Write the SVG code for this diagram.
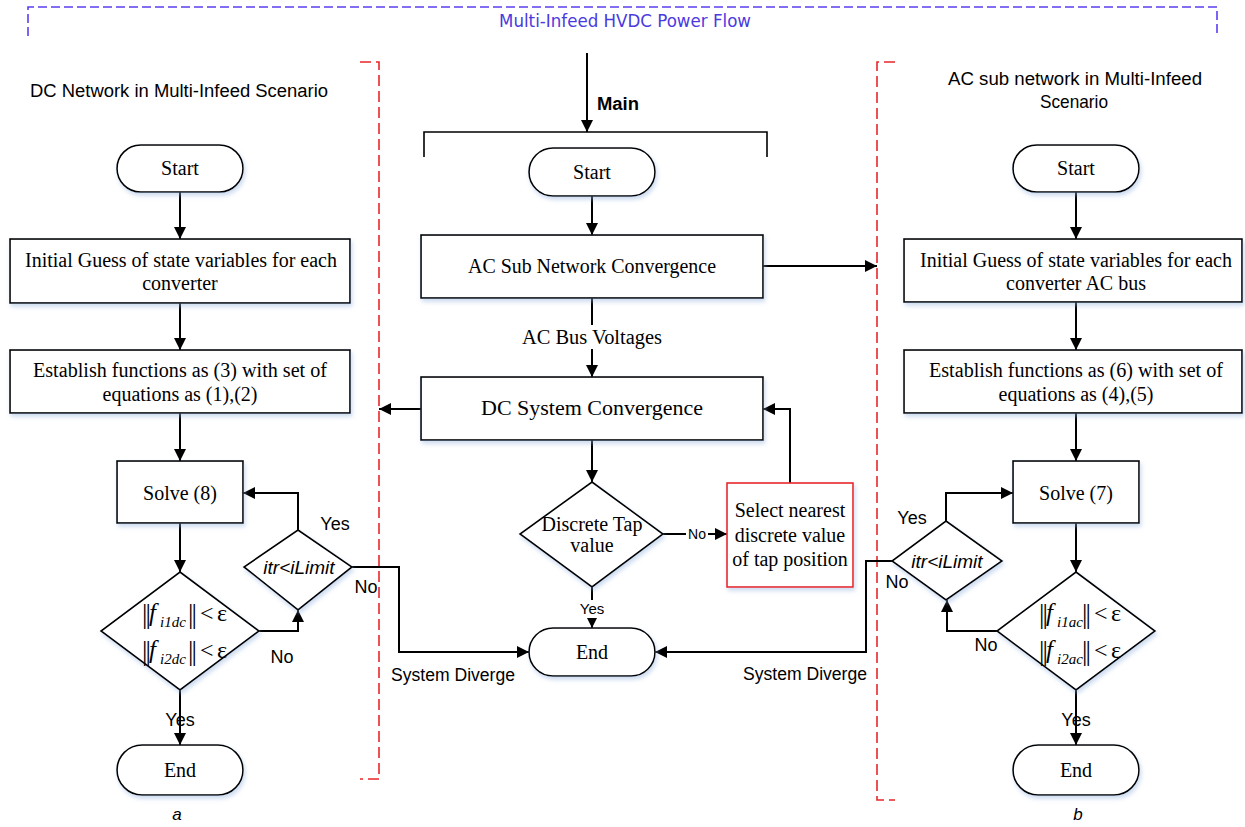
<svg xmlns="http://www.w3.org/2000/svg" width="1245" height="827" viewBox="0 0 1245 827">
<defs>
<style>
.n{fill:#fff;stroke:#000;stroke-width:1.6;filter:url(#sh)}
.sr{font-family:"Liberation Serif",serif;font-size:20px;fill:#000;text-anchor:middle}
.ss{font-family:"Liberation Sans",sans-serif;font-size:18px;fill:#000;text-anchor:middle}
.c{fill:none;stroke:#000;stroke-width:2}
.rd{fill:none;stroke:#e8262a;stroke-width:1.6;stroke-dasharray:11,5}
.bd{fill:none;stroke:#5a3ff0;stroke-width:1.6;stroke-dasharray:9,4}
.bar{font-family:"Liberation Serif",serif;font-size:27px;fill:#000;letter-spacing:-2px}
.fi{font-family:"Liberation Serif",serif;font-size:25px;font-style:italic;fill:#000}
.sub{font-family:"Liberation Serif",serif;font-size:15px;font-style:italic;fill:#000}
.lt{font-family:"Liberation Serif",serif;font-size:24px;fill:#000}
.it{font-family:"Liberation Sans",sans-serif;font-size:19px;font-style:italic;fill:#000;text-anchor:middle}
</style>
<filter id="sh" x="-10%" y="-10%" width="130%" height="140%"><feDropShadow dx="1.5" dy="3" stdDeviation="2" flood-color="#8fb0dd" flood-opacity="0.45"/></filter>
<marker id="ah" viewBox="0 0 10 10" refX="10" refY="5" markerWidth="12" markerHeight="12" markerUnits="userSpaceOnUse" orient="auto"><path d="M0,0 L10,5 L0,10 z" fill="#000"/></marker>
</defs>
<rect width="1245" height="827" fill="#fff"/>

<g id="frames">
<path class="bd" d="M28,36 V7 H1217 V37"/>
<text x="625" y="27" font-family="DejaVu Sans Condensed,Liberation Sans,sans-serif" font-size="17" fill="#4a3ae0" text-anchor="middle" textLength="252" lengthAdjust="spacingAndGlyphs">Multi-Infeed HVDC Power Flow</text>
<path class="rd" d="M360,62 H379 V779 H360"/>
<path class="rd" d="M895,62 H877 V800 H895"/>
<path fill="none" stroke="#000" stroke-width="1.6" d="M424,157 V132 H767 V157"/>
<text x="597" y="110" font-family="Liberation Sans,sans-serif" font-size="18" font-weight="bold" textLength="42" lengthAdjust="spacingAndGlyphs">Main</text>
<text x="30" y="97" font-family="Liberation Sans,sans-serif" font-size="18" textLength="298" lengthAdjust="spacingAndGlyphs">DC Network in Multi-Infeed Scenario</text>
<text x="948" y="85" font-family="Liberation Sans,sans-serif" font-size="18" textLength="254" lengthAdjust="spacingAndGlyphs">AC sub network in Multi-Infeed</text>
<text x="1040" y="108" font-family="Liberation Sans,sans-serif" font-size="18.5" textLength="68" lengthAdjust="spacingAndGlyphs">Scenario</text>
<text x="177" y="820" font-family="Liberation Sans,sans-serif" font-size="17" font-style="italic" text-anchor="middle">a</text>
<text x="1078" y="820" font-family="Liberation Sans,sans-serif" font-size="17" font-style="italic" text-anchor="middle">b</text>
</g>

<g id="connectors">
<line class="c" x1="587" y1="53" x2="587" y2="132" marker-end="url(#ah)"/>
<line class="c" x1="180" y1="192" x2="180" y2="239" marker-end="url(#ah)"/>
<line class="c" x1="180" y1="303" x2="180" y2="350" marker-end="url(#ah)"/>
<line class="c" x1="180" y1="413" x2="180" y2="461" marker-end="url(#ah)"/>
<line class="c" x1="180" y1="523" x2="180" y2="572" marker-end="url(#ah)"/>
<line class="c" x1="180" y1="690" x2="180" y2="745" marker-end="url(#ah)"/>
<polyline class="c" points="259,631 298,631 298,610" marker-end="url(#ah)"/>
<polyline class="c" points="298,530 298,493 243,493" marker-end="url(#ah)"/>
<polyline class="c" points="352,567 399,567 399,652 529,652" marker-end="url(#ah)"/>
<line class="c" x1="592" y1="196" x2="592" y2="235" marker-end="url(#ah)"/>
<line class="c" x1="592" y1="298" x2="592" y2="377" marker-end="url(#ah)"/>
<line class="c" x1="763" y1="266" x2="877" y2="266" marker-end="url(#ah)"/>
<line class="c" x1="421" y1="409" x2="379" y2="409" marker-end="url(#ah)"/>
<line class="c" x1="592" y1="440" x2="592" y2="482" marker-end="url(#ah)"/>
<line class="c" x1="663" y1="534" x2="727" y2="534" marker-end="url(#ah)"/>
<polyline class="c" points="790,483 790,409 763,409" marker-end="url(#ah)"/>
<line class="c" x1="592" y1="587" x2="592" y2="628" marker-end="url(#ah)"/>
<polyline class="c" points="892,561 866,561 866,652 655,652" marker-end="url(#ah)"/>
<line class="c" x1="1076" y1="192" x2="1076" y2="239" marker-end="url(#ah)"/>
<line class="c" x1="1076" y1="302" x2="1076" y2="350" marker-end="url(#ah)"/>
<line class="c" x1="1076" y1="413" x2="1076" y2="461" marker-end="url(#ah)"/>
<line class="c" x1="1076" y1="523" x2="1076" y2="572" marker-end="url(#ah)"/>
<line class="c" x1="1076" y1="690" x2="1076" y2="745" marker-end="url(#ah)"/>
<polyline class="c" points="946,521 946,493 1013,493" marker-end="url(#ah)"/>
<polyline class="c" points="997,631 947,631 947,600" marker-end="url(#ah)"/>
<rect x="520" y="325" width="144" height="24" fill="#fff"/>
<text class="sr" x="592" y="344" textLength="140" lengthAdjust="spacingAndGlyphs">AC Bus Voltages</text>
<rect x="686" y="526" width="22" height="16" fill="#fff"/>
<text x="697" y="539" font-family="Liberation Sans,sans-serif" font-size="14" text-anchor="middle">No</text>
<rect x="580" y="600" width="25" height="18" fill="#fff"/>
<text x="592" y="614" font-family="Liberation Sans,sans-serif" font-size="15" text-anchor="middle">Yes</text>
<text class="ss" x="180" y="726">Yes</text>
<text class="ss" x="1076" y="726">Yes</text>
<text class="ss" x="282" y="663">No</text>
<text class="ss" x="335" y="530">Yes</text>
<text class="ss" x="366" y="593">No</text>
<text class="ss" x="453" y="681" textLength="124" lengthAdjust="spacingAndGlyphs">System Diverge</text>
<text class="ss" x="805" y="680" textLength="124" lengthAdjust="spacingAndGlyphs">System Diverge</text>
<text class="ss" x="912" y="524">Yes</text>
<text class="ss" x="897" y="588">No</text>
<text class="ss" x="986" y="651">No</text>
</g>

<g id="dc-start"><rect class="n" x="117" y="145" width="126" height="47" rx="23.5"/><text class="sr" x="180" y="175">Start</text></g>
<g id="dc-guess"><rect class="n" x="10" y="239" width="340" height="64"/><text class="sr" x="181" y="267" textLength="312" lengthAdjust="spacingAndGlyphs">Initial Guess of state variables for each</text><text class="sr" x="180" y="290">converter</text></g>
<g id="dc-establish"><rect class="n" x="10" y="350" width="340" height="63"/><text class="sr" x="180" y="377" textLength="294" lengthAdjust="spacingAndGlyphs">Establish functions as (3) with set of</text><text class="sr" x="180" y="401">equations as (1),(2)</text></g>
<g id="dc-solve"><rect class="n" x="117" y="461" width="126" height="62"/><text class="sr" x="180" y="500">Solve (8)</text></g>
<g id="dc-check"><polygon class="n" points="180,572 259,631 180,690 101,631"/>
<text class="bar" x="142" y="623">||</text><text class="fi" x="149" y="621">f</text><text class="sub" x="160" y="627">i1dc</text><text class="bar" x="188" y="623">||</text><text class="lt" x="200" y="621">&lt;</text><text class="lt" x="217" y="621">ε</text>
<text class="bar" x="142" y="660">||</text><text class="fi" x="149" y="658">f</text><text class="sub" x="160" y="664">i2dc</text><text class="bar" x="188" y="660">||</text><text class="lt" x="200" y="658">&lt;</text><text class="lt" x="217" y="658">ε</text></g>
<g id="dc-itr"><polygon class="n" points="298,530 352,567 298,610 244,567"/><text class="it" x="299" y="574">itr&lt;iLimit</text></g>
<g id="dc-end"><rect class="n" x="117" y="745" width="126" height="50" rx="25"/><text class="sr" x="180" y="777">End</text></g>

<g id="main-start"><rect class="n" x="529" y="148" width="126" height="48" rx="24"/><text class="sr" x="592" y="179">Start</text></g>
<g id="ac-conv"><rect class="n" x="421" y="235" width="342" height="63"/><text class="sr" x="592" y="273" textLength="248" lengthAdjust="spacingAndGlyphs">AC Sub Network Convergence</text></g>
<g id="dc-conv"><rect class="n" x="421" y="377" width="342" height="63"/><text class="sr" x="592" y="415" textLength="222" lengthAdjust="spacingAndGlyphs">DC System Convergence</text></g>
<g id="tap"><polygon class="n" points="592,482 663,534 592,587 520,534"/><text class="sr" x="592" y="531" font-size="17.5">Discrete Tap</text><text class="sr" x="592" y="552" font-size="17.5">value</text></g>
<g id="select"><rect x="727" y="483" width="126" height="104" fill="#fff" stroke="#e8262a" stroke-width="1.6" filter="url(#sh)"/><text class="sr" x="790" y="517">Select nearest</text><text class="sr" x="790" y="542">discrete value</text><text class="sr" x="790" y="566">of tap position</text></g>
<g id="main-end"><rect class="n" x="529" y="628" width="126" height="48" rx="24"/><text class="sr" x="592" y="659">End</text></g>

<g id="ac-start"><rect class="n" x="1013" y="145" width="126" height="47" rx="23.5"/><text class="sr" x="1076" y="175">Start</text></g>
<g id="ac-guess"><rect class="n" x="904" y="239" width="338" height="63"/><text class="sr" x="1076" y="267" textLength="312" lengthAdjust="spacingAndGlyphs">Initial Guess of state variables for each</text><text class="sr" x="1076" y="290">converter AC bus</text></g>
<g id="ac-establish"><rect class="n" x="904" y="350" width="338" height="63"/><text class="sr" x="1076" y="377" textLength="294" lengthAdjust="spacingAndGlyphs">Establish functions as (6) with set of</text><text class="sr" x="1076" y="401">equations as (4),(5)</text></g>
<g id="ac-solve"><rect class="n" x="1013" y="461" width="126" height="62"/><text class="sr" x="1076" y="500">Solve (7)</text></g>
<g id="ac-check"><polygon class="n" points="1076,572 1155,631 1076,690 997,631"/>
<text class="bar" x="1039" y="623">||</text><text class="fi" x="1046" y="621">f</text><text class="sub" x="1057" y="627">i1ac</text><text class="bar" x="1082" y="623">||</text><text class="lt" x="1094" y="621">&lt;</text><text class="lt" x="1111" y="621">ε</text>
<text class="bar" x="1039" y="660">||</text><text class="fi" x="1046" y="658">f</text><text class="sub" x="1057" y="664">i2ac</text><text class="bar" x="1082" y="660">||</text><text class="lt" x="1094" y="658">&lt;</text><text class="lt" x="1111" y="658">ε</text></g>
<g id="ac-itr"><polygon class="n" points="946,521 1002,561 946,600 892,561"/><text class="it" x="947" y="568">itr&lt;iLimit</text></g>
<g id="ac-end"><rect class="n" x="1013" y="745" width="126" height="50" rx="25"/><text class="sr" x="1076" y="777">End</text></g>
</svg>
